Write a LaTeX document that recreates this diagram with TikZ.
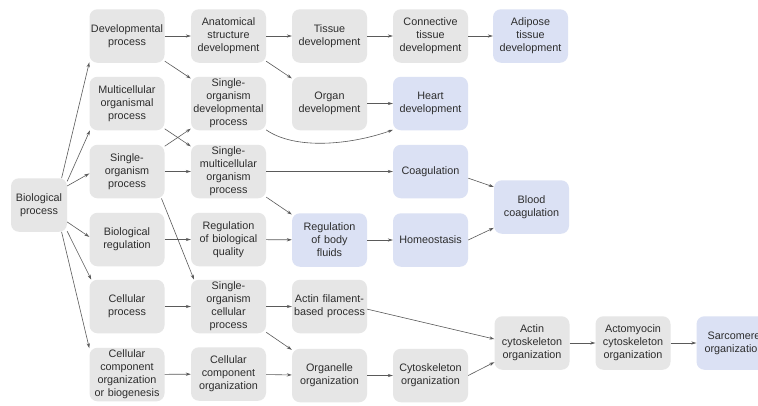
\documentclass[tikz,border=0pt]{standalone}
\usepackage{fontspec}
\setmainfont{Liberation Sans}
\usetikzlibrary{arrows.meta}
\definecolor{boxgray}{RGB}{230,230,230}
\definecolor{boxblue}{RGB}{219,225,244}
\definecolor{txt}{RGB}{45,45,45}
\definecolor{edgecol}{RGB}{90,90,90}
\begin{document}
\begin{tikzpicture}[x=1pt,y=-1pt,
  box/.style={rectangle, rounded corners=8pt, fill=boxgray, draw=none, minimum width=75pt, minimum height=53.5pt, text width=75pt, inner xsep=0pt, inner ysep=0pt, align=center, font=\fontsize{10.8}{13}\selectfont, text=txt},
  bbox/.style={box, fill=boxblue},
  arr/.style={draw=edgecol, line width=0.6pt, -{Stealth[length=5pt,width=3.2pt]}}]
\fill[white] (0,0) rectangle (758,405);
\useasboundingbox (0,0) rectangle (758,405);
\node[box] (dp) at (127,36) {Developmental\\process};
\node[box] (anat) at (228.5,36) {Anatomical\\structure\\development};
\node[box] (tis) at (329.5,36) {Tissue\\development};
\node[box] (ctd) at (430.5,36) {Connective\\tissue\\development};
\node[bbox] (atd) at (530.5,36) {Adipose\\tissue\\development};
\node[box] (mop) at (127,103.5) {Multicellular\\organismal\\process};
\node[box] (sodp) at (228.5,103.5) {Single-\\organism\\developmental\\process};
\node[box] (orgd) at (329.5,103.5) {Organ\\development};
\node[bbox] (heart) at (430.5,103.5) {Heart\\development};
\node[box] (sop) at (127,171.5) {Single-\\organism\\process};
\node[box] (smop) at (228.5,171.5) {Single-\\multicellular\\organism\\process};
\node[bbox] (coag) at (430.5,171.5) {Coagulation};
\node[box,text width=56pt,minimum width=56pt] (bp) at (39,205) {Biological\\process};
\node[bbox] (bc) at (531.5,207) {Blood\\coagulation};
\node[box] (br) at (127,239.5) {Biological\\regulation};
\node[box] (rbq) at (228.5,239.5) {Regulation\\of biological\\quality};
\node[bbox] (rbf) at (329.5,240) {Regulation\\of body\\fluids};
\node[bbox] (homeo) at (430.5,240) {Homeostasis};
\node[box] (cp) at (127,306.5) {Cellular\\process};
\node[box] (socp) at (228.5,306.5) {Single-\\organism\\cellular\\process};
\node[box] (afbp) at (329.5,306.5) {Actin filament-\\based process};
\node[box] (aco) at (532,343) {Actin\\cytoskeleton\\organization};
\node[box] (amco) at (633,343) {Actomyocin\\cytoskeleton\\organization};
\node[bbox] (sarc) at (734,343) {Sarcomere\\organization};
\node[box] (ccob) at (127,374.5) {Cellular\\component\\organization\\or biogenesis};
\node[box] (cco) at (228.5,374) {Cellular\\component\\organization};
\node[box] (oo) at (329.5,375.5) {Organelle\\organization};
\node[box] (co) at (430.5,375.5) {Cytoskeleton\\organization};
\draw[arr] (bp.50) -- (dp.215);
\draw[arr] (bp.40) -- (mop.216);
\draw[arr] (bp.34) -- (sop.183);
\draw[arr] (bp.-31) -- (br.176);
\draw[arr] (bp.-43) -- (cp.143);
\draw[arr] (bp.-50) -- (ccob.145);
\draw[arr] (dp) -- (anat);
\draw[arr] (dp) -- (sodp);
\draw[arr] (mop) -- (smop);
\draw[arr] (sop) -- (sodp);
\draw[arr] (sop) -- (smop);
\draw[arr] (sop.-38) -- (socp.142);
\draw[arr] (anat) -- (tis);
\draw[arr] (anat) -- (orgd);
\draw[arr] (tis) -- (ctd);
\draw[arr] (ctd) -- (atd);
\draw[arr] (orgd) -- (heart);
\draw[arr] (sodp.-35) .. controls (295,150) and (350,145) .. (heart.-145);
\draw[arr] (smop) -- (coag);
\draw[arr] (smop) -- (rbf);
\draw[arr] (br) -- (rbq);
\draw[arr] (rbq) -- (rbf);
\draw[arr] (rbf) -- (homeo);
\draw[arr] (coag.-10) -- (bc.152);
\draw[arr] (homeo.east) -- (bc.209);
\draw[arr] (cp) -- (socp);
\draw[arr] (ccob) -- (cco);
\draw[arr] (socp) -- (afbp);
\draw[arr] (socp) -- (oo);
\draw[arr] (cco) -- (oo);
\draw[arr] (afbp.-4) -- (aco.174);
\draw[arr] (oo) -- (co);
\draw[arr] (co.east) -- (aco.207);
\draw[arr] (aco) -- (amco);
\draw[arr] (amco) -- (sarc);
\end{tikzpicture}
\end{document}
